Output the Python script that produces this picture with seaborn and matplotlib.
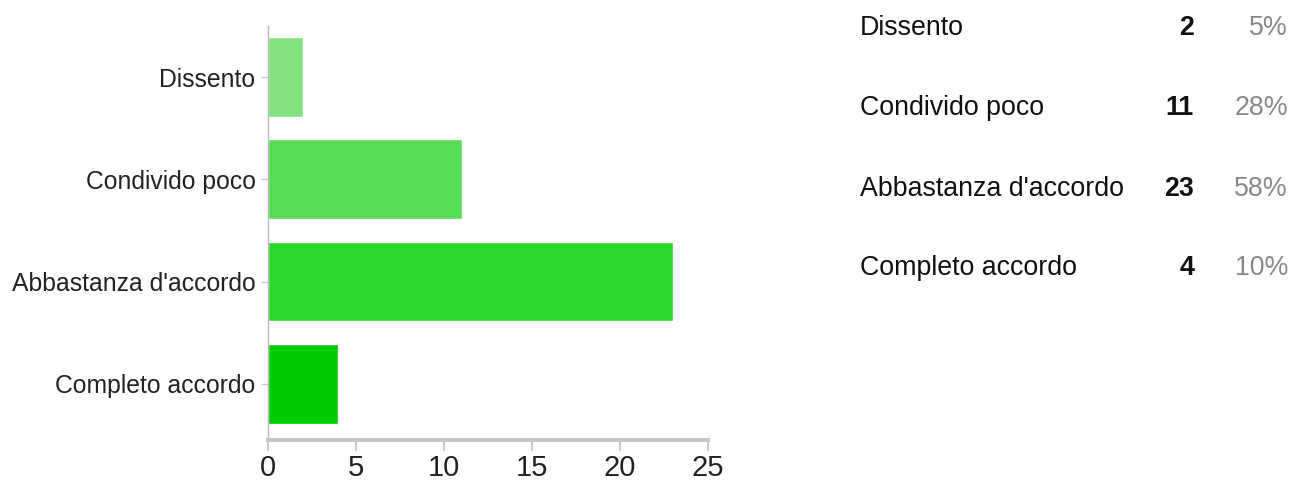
import matplotlib

matplotlib.use("Agg")

import matplotlib.pyplot as plt
import pandas as pd
import seaborn as sns

categories = ["Dissento", "Condivido poco", "Abbastanza d'accordo", "Completo accordo"]
counts = [2, 11, 23, 4]
percent_labels = ["5%", "28%", "58%", "10%"]
bar_colors = ["#80e37f", "#55dd55", "#2bd82b", "#00cc00"]
x_ticks = [0, 5, 10, 15, 20, 25]

sns.set_style("white")
plt.rcParams["font.family"] = ["Liberation Sans", "DejaVu Sans"]

df = pd.DataFrame({"Risposta": categories, "Conteggio": counts})

fig = plt.figure(figsize=(12.9, 4.92), dpi=100)
ax = fig.add_axes([268 / 1290, 1 - 440 / 492, 440 / 1290, 414 / 492])

sns.barplot(
    data=df,
    x="Conteggio",
    y="Risposta",
    hue="Risposta",
    palette=bar_colors,
    legend=False,
    width=0.78,
    saturation=1,
    ax=ax,
)

ax.set_xlim(0, 25)
ax.set_ylim(3.55, -0.5)
ax.set_xticks(x_ticks)
ax.set_xticklabels([str(t) for t in x_ticks])
ax.set_xlabel("")
ax.set_ylabel("")

for side in ["top", "right"]:
    ax.spines[side].set_visible(False)
ax.spines["bottom"].set_color("#c8c8c8")
ax.spines["bottom"].set_linewidth(3)
ax.spines["left"].set_color("#b8b8b8")
ax.spines["left"].set_linewidth(1)

ax.tick_params(axis="x", bottom=True, length=8, width=1.2, color="#c0c0c0",
               labelsize=21, pad=2, labelcolor="#222222")
ax.tick_params(axis="y", left=True, length=5, width=1, color="#c8c8c8",
               labelsize=17.8, pad=4, labelcolor="#222222")

# summary table on the right
row_y = [28, 108, 189, 268]
for cat, n, pct, y in zip(categories, counts, percent_labels, row_y):
    yf = 1 - y / 492
    fig.text(860 / 1290, yf, cat, ha="left", va="center", fontsize=19.3, color="#111111")
    fig.text(1194 / 1290, yf, str(n), ha="right", va="center", fontsize=19.3,
             fontweight="bold", color="#111111")
    fig.text(1288 / 1290, yf, pct, ha="right", va="center", fontsize=19.3, color="#888888")

fig.savefig("out.png", dpi=100)
